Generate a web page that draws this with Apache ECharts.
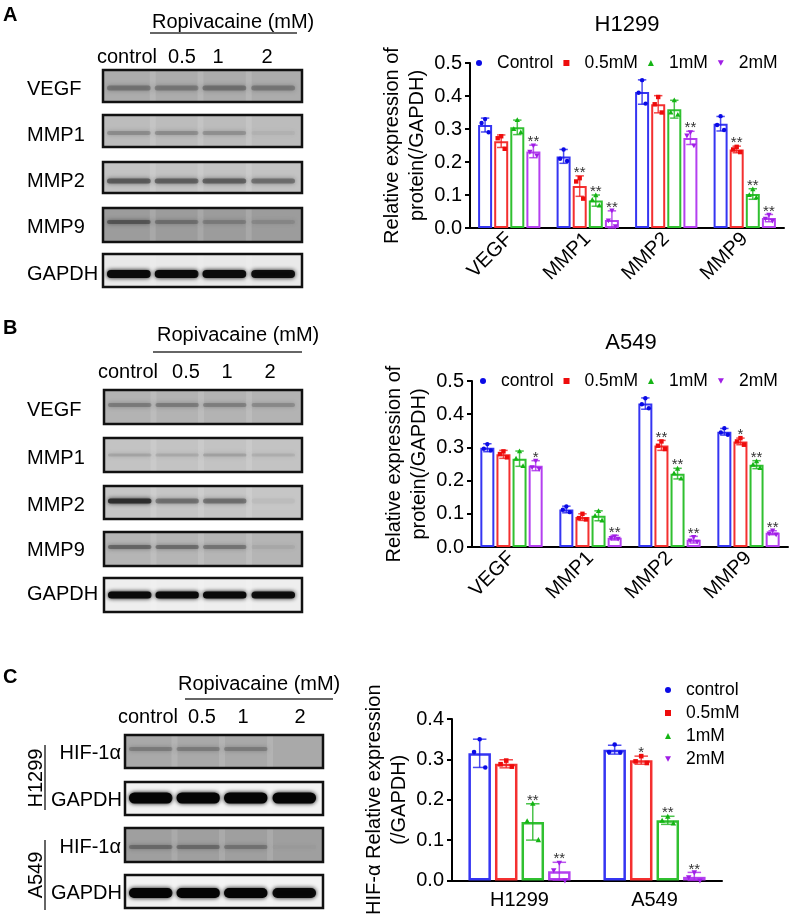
<!DOCTYPE html>
<html>
<head>
<meta charset="utf-8">
<script src="https://cdn.jsdelivr.net/npm/echarts@6.0.0/dist/echarts.min.js"></script>
<style>
    html, body {margin:0;padding:0;background:#fff;}
    #chart {width:796px;height:917px;}
</style>
</head>
<body>
<div id="chart"></div>
<script>
    // ---- data ----
    var proteins = ['VEGF', 'MMP1', 'MMP2', 'MMP9'];
    var cellLines = ['H1299', 'A549'];
    var groupsA = ['Control', '0.5mM', '1mM', '2mM'];
    var groupsBC = ['control', '0.5mM', '1mM', '2mM'];
    var yMaxAB = 0.5, yMaxC = 0.4, yStep = 0.1;

    // panel A, H1299 (rows = groups, cols = proteins)
    var h1299Mean = [
        [0.312, 0.217, 0.412, 0.316],
        [0.263, 0.127, 0.375, 0.238],
        [0.305, 0.083, 0.360, 0.103],
        [0.232, 0.024, 0.273, 0.030]
    ];
    var h1299Sd = [
        [0.021, 0.021, 0.037, 0.022],
        [0.019, 0.031, 0.026, 0.010],
        [0.022, 0.017, 0.027, 0.016],
        [0.019, 0.028, 0.020, 0.011]
    ];
    var h1299Pts = [
        [[0.330, 0.318, 0.290], [0.238, 0.210, 0.203], [0.448, 0.410, 0.377], [0.339, 0.312, 0.297]],
        [[0.278, 0.272, 0.240], [0.151, 0.141, 0.089], [0.397, 0.375, 0.350], [0.246, 0.238, 0.230]],
        [[0.327, 0.300, 0.290], [0.099, 0.085, 0.068], [0.387, 0.350, 0.343], [0.117, 0.100, 0.092]],
        [[0.250, 0.231, 0.220], [0.053, 0.023, 0.005], [0.290, 0.280, 0.250], [0.040, 0.028, 0.022]]
    ];
    var h1299Sig = [
        ['', '', '', ''],
        ['', '**', '', '**'],
        ['', '**', '', '**'],
        ['**', '**', '**', '**']
    ];

    // panel B, A549
    var a549Mean = [
        [0.299, 0.113, 0.432, 0.347],
        [0.279, 0.090, 0.306, 0.318],
        [0.266, 0.094, 0.221, 0.248],
        [0.245, 0.028, 0.022, 0.043]
    ];
    var a549Sd = [
        [0.012, 0.010, 0.017, 0.010],
        [0.012, 0.010, 0.015, 0.010],
        [0.023, 0.015, 0.016, 0.012],
        [0.015, 0.007, 0.010, 0.006]
    ];
    var a549Pts = [
        [[0.310, 0.296, 0.291], [0.122, 0.112, 0.105], [0.448, 0.430, 0.418], [0.358, 0.345, 0.338]],
        [[0.288, 0.280, 0.270], [0.100, 0.087, 0.083], [0.318, 0.305, 0.295], [0.328, 0.318, 0.308]],
        [[0.288, 0.266, 0.244], [0.108, 0.094, 0.080], [0.236, 0.222, 0.206], [0.258, 0.248, 0.238]],
        [[0.260, 0.240, 0.235], [0.032, 0.027, 0.025], [0.030, 0.020, 0.016], [0.050, 0.041, 0.038]]
    ];
    var a549Sig = [
        ['', '', '', ''],
        ['', '', '**', '*'],
        ['', '', '**', '**'],
        ['*', '**', '**', '**']
    ];

    // panel C, HIF-1α (cols = cell lines)
    var hifMean = [
        [0.315, 0.324],
        [0.289, 0.298],
        [0.145, 0.149],
        [0.023, 0.009]
    ];
    var hifSd = [
        [0.035, 0.011],
        [0.010, 0.010],
        [0.045, 0.010],
        [0.022, 0.011]
    ];
    var hifPts = [
        [[0.350, 0.318, 0.280], [0.337, 0.318, 0.317]],
        [[0.297, 0.288, 0.282], [0.308, 0.295, 0.291]],
        [[0.190, 0.147, 0.100], [0.158, 0.148, 0.141]],
        [[0.044, 0.025, 0.000], [0.020, 0.008, 0.000]]
    ];
    var hifSig = [
        ['', ''],
        ['', '*'],
        ['**', '**'],
        ['**', '**']
    ];

    // ---- styles ----
    var FONT = '"Liberation Sans", Arial, Helvetica, sans-serif';
    var barColors = ['#3535f2', '#f43030', '#30c030', '#b440f0'];
    var dotColors = ['#0a0ae6', '#ee0c0c', '#14b414', '#a01ee6'];
    var errColors = ['rgba(30,30,235,0.8)', 'rgba(240,30,30,0.8)', 'rgba(30,180,30,0.8)', 'rgba(170,40,235,0.8)'];
    var legendIcons = ['circle', 'rect', 'triangle', 'path://M0,0L10,0L5,9Z'];
    var jitter = [0, -0.25, 0.25];

    var panels = [
        {cats: proteins, groups: groupsA, mean: h1299Mean, sd: h1299Sd, pts: h1299Pts, sig: h1299Sig,
            grid: {left: 470, top: 63, width: 314, height: 165}, yMax: yMaxAB, rotate: 45, labelMargin: 8,
            barW: 14, gap: 0.15, bw: 2, dot: 2.2, yName: 'Relative expression of\nprotein(/GAPDH)'},
        {cats: proteins, groups: groupsBC, mean: a549Mean, sd: a549Sd, pts: a549Pts, sig: a549Sig,
            grid: {left: 472, top: 381, width: 316, height: 166}, yMax: yMaxAB, rotate: 45, labelMargin: 8,
            barW: 14, gap: 0.15, bw: 2, dot: 2.2, yName: 'Relative expression of\nprotein(/GAPDH)'},
        {cats: cellLines, groups: groupsBC, mean: hifMean, sd: hifSd, pts: hifPts, sig: hifSig,
            grid: {left: 452, top: 719, width: 270, height: 165}, yMax: yMaxC, rotate: 0, labelMargin: 10,
            barW: 22.5, gap: 0.18, bw: 2.5, dot: 2.3, yName: 'HIF-α Relative expression\n(/GAPDH)'}
    ];

    function marker(i, x, y, r) {
        var st = {fill: dotColors[i]};
        if (i === 0) return {type: 'circle', shape: {cx: x, cy: y, r: r}, style: st};
        if (i === 1) return {type: 'rect', shape: {x: x - r, y: y - r, width: 2 * r, height: 2 * r}, style: st};
        if (i === 2) return {type: 'polygon', shape: {points: [[x, y - r * 1.3], [x - r * 1.2, y + r * 0.9], [x + r * 1.2, y + r * 0.9]]}, style: st};
        return {type: 'polygon', shape: {points: [[x, y + r * 1.3], [x - r * 1.2, y - r * 0.9], [x + r * 1.2, y - r * 0.9]]}, style: st};
    }

    function errorSeries(p, k, i) {
        return {
            type: 'custom',
            name: p.groups[i],
            xAxisIndex: k,
            yAxisIndex: k,
            z: 5,
            silent: true,
            itemStyle: {color: dotColors[i]},
            data: p.mean[i].map(function (m, j) { return [j, m, p.sd[i][j]]; }),
            renderItem: function (params, api) {
                var j = api.value(0), m = api.value(1), e = api.value(2);
                var c = api.coord([j, m]);
                var step = p.barW * (1 + p.gap);
                var total = 4 * p.barW + 3 * p.barW * p.gap;
                var x = c[0] - total / 2 + i * step + p.barW / 2;
                var yTop = api.coord([j, m + e])[1];
                var yBot = api.coord([j, Math.max(m - e, 0)])[1];
                var cap = p.barW * 0.3;
                var ls = {stroke: errColors[i], lineWidth: 1.5};
                var kids = [
                    {type: 'line', shape: {x1: x, y1: yTop, x2: x, y2: yBot}, style: ls},
                    {type: 'line', shape: {x1: x - cap, y1: yTop, x2: x + cap, y2: yTop}, style: ls},
                    {type: 'line', shape: {x1: x - cap, y1: yBot, x2: x + cap, y2: yBot}, style: ls}
                ];
                p.pts[i][j].forEach(function (v, n) {
                    kids.push(marker(i, x + jitter[n] * p.barW, api.coord([j, v])[1], p.dot));
                });
                var s = p.sig[i][j];
                if (s) {
                    kids.push({type: 'text', style: {text: s, x: x, y: yTop - 3,
                        align: 'center', textAlign: 'center', verticalAlign: 'middle', textVerticalAlign: 'middle',
                        font: '15px ' + FONT, fill: '#333'}});
                }
                return {type: 'group', children: kids};
            }
        };
    }

    var grids = [], xAxes = [], yAxes = [], series = [];
    panels.forEach(function (p, k) {
        grids.push(p.grid);
        xAxes.push({
            type: 'category', gridIndex: k, data: p.cats,
            axisLine: {lineStyle: {color: '#000', width: 2}},
            axisTick: {alignWithLabel: true, length: 6, lineStyle: {color: '#000', width: 2}},
            axisLabel: {rotate: p.rotate, interval: 0, fontSize: 20, color: '#000', margin: p.labelMargin, fontFamily: FONT}
        });
        yAxes.push({
            type: 'value', gridIndex: k, min: 0, max: p.yMax, interval: yStep,
            name: p.yName, nameLocation: 'middle', nameGap: 40, nameRotate: 90,
            nameTextStyle: {fontSize: 20, color: '#000', lineHeight: 25, fontFamily: FONT},
            axisLine: {show: true, lineStyle: {color: '#000', width: 2}},
            axisTick: {show: true, length: 5, lineStyle: {color: '#000', width: 2}},
            axisLabel: {fontSize: 20, color: '#000', margin: 8, fontFamily: FONT,
                formatter: function (v) { return v.toFixed(1); }},
            splitLine: {show: false}
        });
        p.groups.forEach(function (g, i) {
            series.push({
                type: 'bar', name: p.cats.join('') + ' ' + g + ' bar',
                xAxisIndex: k, yAxisIndex: k,
                data: p.mean[i],
                barWidth: p.barW, barGap: (p.gap * 100) + '%',
                silent: true,
                itemStyle: {color: '#fff', borderColor: barColors[i], borderWidth: p.bw}
            });
        });
        p.groups.forEach(function (g, i) {
            series.push(errorSeries(p, k, i));
        });
    });

    function legendData(groups) {
        return groups.map(function (g, i) { return {name: g, icon: legendIcons[i]}; });
    }
    var legendText = {fontSize: 17.5, color: '#000', fontFamily: FONT, padding: [0, 0, 0, 10]};

    // ---- western blot drawings ----
    var lanePos = [0.13, 0.37, 0.61, 0.855];
    function blot(x, y, w, h, bg, band, amounts, bandY, bandH) {
        var kids = [{type: 'rect', shape: {x: 0, y: 0, width: w, height: h}, style: {fill: bg}}];
        var laneW = w * 0.22;
        lanePos.forEach(function (f, n) {
            if (n > 0) {
                kids.push({type: 'rect', shape: {x: (lanePos[n - 1] + f) / 2 * w - 3, y: 0, width: 6, height: h},
                    style: {fill: 'rgba(255,255,255,0.12)'}});
            }
            if (amounts[n] <= 0) return;
            kids.push({type: 'rect',
                shape: {x: f * w - laneW / 2, y: bandY - bandH / 2, width: laneW, height: bandH, r: bandH / 2},
                style: {fill: band, opacity: amounts[n], shadowBlur: 4, shadowColor: band}});
        });
        kids.push({type: 'rect', shape: {x: 0, y: 0, width: w, height: h}, style: {fill: 'none', stroke: '#111', lineWidth: 2.5}});
        return {type: 'group', x: x, y: y, children: kids};
    }
    function txt(s, x, y, size, align, bold) {
        return {type: 'text', x: x, y: y, style: {text: s, x: 0, y: 0,
            font: (bold ? 'bold ' : '') + size + 'px ' + FONT, fill: '#000',
            align: align || 'left', textAlign: align || 'left',
            verticalAlign: 'middle', textVerticalAlign: 'middle'}};
    }
    function hline(x1, x2, y) {
        return {type: 'line', shape: {x1: x1, y1: y, x2: x2, y2: y}, style: {stroke: '#333', lineWidth: 1.5}};
    }
    function vline(x, y1, y2) {
        return {type: 'line', shape: {x1: x, y1: y1, x2: x, y2: y2}, style: {stroke: '#333', lineWidth: 1.5}};
    }

    var graphics = [
        // panel A
        txt('A', 3, 15, 20, 'left', true),
        txt('Ropivacaine (mM)', 152, 22, 20),
        hline(150, 297, 33),
        txt('control', 97, 57, 20), txt('0.5', 182, 57, 20, 'center'), txt('1', 218, 57, 20, 'center'), txt('2', 267, 57, 20, 'center'),
        txt('VEGF', 27, 89, 20), txt('MMP1', 27, 135, 20), txt('MMP2', 27, 181, 20), txt('MMP9', 27, 227, 20), txt('GAPDH', 27, 274, 20),
        blot(103, 70, 199, 32, '#acacac', '#5a5a5a', [0.55, 0.5, 0.6, 0.5], 18, 5),
        blot(103, 115, 199, 32, '#bcbcbc', '#6a6a6a', [0.45, 0.45, 0.4, 0.08], 18, 4),
        blot(103, 162, 199, 31, '#c3c3c3', '#4a4a4a', [0.75, 0.7, 0.7, 0.55], 19, 5),
        blot(103, 208, 199, 34, '#9c9c9c', '#3a3a3a', [0.6, 0.35, 0.25, 0.15], 14, 4),
        blot(103, 254, 199, 33, '#e9e9e9', '#0a0a0a', [1, 1, 1, 0.95], 20, 8),
        // panel B
        txt('B', 3, 328, 20, 'left', true),
        txt('Ropivacaine (mM)', 157, 335, 20),
        hline(153, 302, 352),
        txt('control', 98, 372, 20), txt('0.5', 186, 372, 20, 'center'), txt('1', 227, 372, 20, 'center'), txt('2', 270, 372, 20, 'center'),
        txt('VEGF', 27, 410, 20), txt('MMP1', 27, 458, 20), txt('MMP2', 27, 505, 20), txt('MMP9', 27, 550, 20), txt('GAPDH', 27, 594, 20),
        blot(104, 390, 198, 34, '#b3b3b3', '#5c5c5c', [0.5, 0.5, 0.45, 0.35], 15, 4),
        blot(104, 438, 198, 34, '#c3c3c3', '#777777', [0.3, 0.25, 0.35, 0.2], 17, 3),
        blot(104, 486, 198, 33, '#c6c6c6', '#2a2a2a', [0.95, 0.4, 0.4, 0.03], 15, 5),
        blot(104, 532, 198, 34, '#b5b5b5', '#4a4a4a', [0.6, 0.55, 0.45, 0.08], 15, 4),
        blot(104, 578, 198, 34, '#eeeeee', '#0a0a0a', [1, 1, 1, 0.95], 17, 7),
        // panel C
        txt('C', 3, 677, 20, 'left', true),
        txt('Ropivacaine (mM)', 178, 684, 20),
        hline(185, 333, 699),
        txt('control', 118, 717, 20), txt('0.5', 202, 717, 20, 'center'), txt('1', 243, 717, 20, 'center'), txt('2', 300, 717, 20, 'center'),
        txt('HIF-1α', 121, 753, 20, 'right'), txt('GAPDH', 122, 800, 20, 'right'),
        txt('HIF-1α', 121, 847, 20, 'right'), txt('GAPDH', 122, 893, 20, 'right'),
        blot(125, 735, 198, 33, '#a9a9a9', '#5a5a5a', [0.45, 0.45, 0.45, 0], 14, 4),
        blot(125, 782, 198, 33, '#f2f2f2', '#050505', [1, 1, 1, 1], 16, 11),
        blot(125, 828, 198, 34, '#9f9f9f', '#4a4a4a', [0.5, 0.5, 0.4, 0.03], 19, 4),
        blot(125, 875, 198, 33, '#f2f2f2', '#050505', [1, 1, 1, 0.95], 18, 10),
        vline(45, 745, 810), vline(45, 840, 910)
    ];
    var h1299Side = txt('H1299', 36, 778, 20, 'center'); h1299Side.rotation = Math.PI / 2;
    var a549Side = txt('A549', 36, 875, 20, 'center'); a549Side.rotation = Math.PI / 2;
    graphics.push(h1299Side, a549Side);

    var chart = echarts.init(document.getElementById('chart'));
    chart.setOption({
        backgroundColor: '#fff',
        animation: false,
        textStyle: {fontFamily: FONT},
        title: [
            {text: 'H1299', left: 627, top: 14, textAlign: 'center', padding: 0,
                textStyle: {fontSize: 22, fontWeight: 'normal', color: '#000', fontFamily: FONT}},
            {text: 'A549', left: 631, top: 332, textAlign: 'center', padding: 0,
                textStyle: {fontSize: 22, fontWeight: 'normal', color: '#000', fontFamily: FONT}}
        ],
        legend: [
            {data: legendData(groupsA), left: 476, top: 54, padding: 0, itemGap: 10, itemWidth: 6, itemHeight: 6,
                selectedMode: false, textStyle: legendText},
            {data: legendData(groupsBC), left: 480, top: 372, padding: 0, itemGap: 10, itemWidth: 6, itemHeight: 6,
                selectedMode: false, textStyle: legendText},
            {data: legendData(groupsBC), orient: 'vertical', left: 665, top: 681, padding: 0, itemGap: 5,
                itemWidth: 6, itemHeight: 6, selectedMode: false, textStyle: legendText}
        ],
        grid: grids,
        xAxis: xAxes,
        yAxis: yAxes,
        series: series,
        graphic: {elements: graphics}
    });
</script>
</body>
</html>
